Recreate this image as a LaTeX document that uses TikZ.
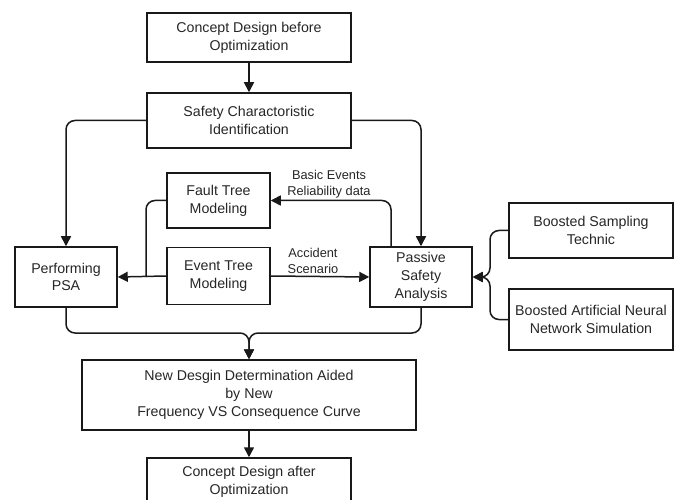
\documentclass[tikz,border=0pt]{standalone}
\usepackage{fontspec}
\setmainfont{Liberation Sans}
\usetikzlibrary{arrows.meta}
\begin{document}
\begin{tikzpicture}[x=1pt,y=-1pt,
  box/.style={draw=black!90, line width=1.5pt, align=center, inner sep=0pt,
    font=\fontsize{14.2}{17.8}\selectfont, text=black!85},
  lbl/.style={align=center, inner sep=0pt, font=\fontsize{12.8}{16}\selectfont, text=black!85},
  conn/.style={line width=1.5pt, draw=black!90, rounded corners=9pt},
  arr/.style={conn, -{Triangle[length=10pt,width=10pt]}}]
\useasboundingbox (0,0) rectangle (678,500);
\node[box, minimum width=204pt, minimum height=49pt] (c1) at (249,37.5) {Concept Design before\\Optimization};
\node[box, minimum width=204pt, minimum height=55pt] (sci) at (249,120.5) {Safety Charactoristic\\Identification};
\node[box, minimum width=103pt, minimum height=55pt] (ft) at (218.5,200.5) {Fault Tree\\Modeling};
\node[box, minimum width=103pt, minimum height=57pt] (et) at (218.5,276) {Event Tree\\Modeling};
\node[box, minimum width=102pt, minimum height=60pt] (psa) at (66,277) {Performing\\PSA};
\node[box, minimum width=102pt, minimum height=60pt] (pas) at (421,277) {Passive\\Safety\\Analysis};
\node[box, minimum width=164pt, minimum height=55pt] (bs) at (591,230.5) {Boosted Sampling\\Technic};
\node[box, minimum width=164pt, minimum height=61pt] (ann) at (591,319.5) {Boosted Artificial Neural\\Network Simulation};
\node[box, minimum width=334pt, minimum height=70pt] (nd) at (249,395) {New Desgin Determination Aided\\by New\\Frequency VS Consequence Curve};
\node[box, minimum width=204pt, minimum height=48pt] (c2) at (249,482) {Concept Design after\\Optimization};
\node[lbl] (l1) at (329,184.5) {Basic Events\\Reliability data};
\node[lbl] (l2) at (313,261) {Accident\\Scenario};
\coordinate (jn) at (146,277);
\coordinate (jb) at (249,333);
\coordinate (jr) at (490,277);
% connectors
\draw[arr] (c1.south) -- (sci.north);
\draw[arr] (sci.west) -| (psa.north);
\draw[arr] (sci.east) -| (pas.north);
\draw[arr] ([xshift=-30pt]pas.north) |- (ft.east);
\draw[conn] (ft.west) -| (jn);
\draw[arr] (et.west) -- (psa.east);
\draw[arr] (et.east) -- (pas.west);
\draw[arr] (bs.west) -| (jr) -- (pas.east);
\draw[arr] (ann.west) -| (jr) -- (pas.east);
\draw[arr] (psa.south) |- (jb) -- (nd.north);
\draw[arr] (pas.south) |- (jb) -- (nd.north);
\draw[arr] (nd.south) -- (c2.north);
\end{tikzpicture}
\end{document}
